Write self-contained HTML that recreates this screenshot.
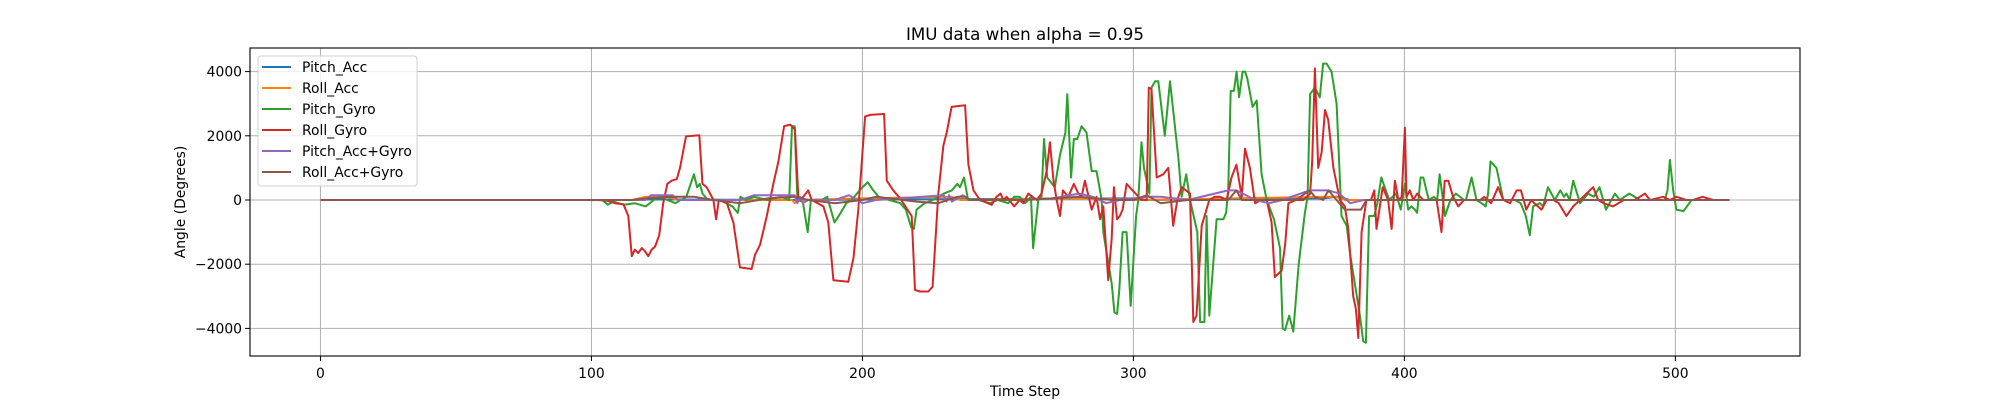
<!DOCTYPE html>
<html><head><meta charset="utf-8">
<style>
html,body{margin:0;padding:0;background:#fff;}
svg{display:block;font-family:"DejaVu Sans","Liberation Sans",sans-serif;}
</style></head>
<body>
<svg id="chart" width="2000" height="400" viewBox="0 0 2000 400" xmlns="http://www.w3.org/2000/svg">
<text x="1025" y="40" text-anchor="middle" font-size="16.7">IMU data when alpha = 0.95</text>
<g id="grid"></g>
<g id="series"></g>
<rect x="250" y="48" width="1550" height="308" fill="none" stroke="#000" stroke-width="1.1"/>
<g id="ticks"></g>
<text x="1025" y="396" text-anchor="middle" font-size="13.9">Time Step</text>
<text x="0" y="0" transform="translate(185,202) rotate(-90)" text-anchor="middle" font-size="13.9">Angle (Degrees)</text>
<g id="legend"></g>
</svg>
<script>
const xTicks=[0,100,200,300,400,500];
const yTicks=[-4000,-2000,0,2000,4000];
const yTickLabels=["\u22124000","\u22122000","0","2000","4000"];
const seriesNames=["Pitch_Acc","Roll_Acc","Pitch_Gyro","Roll_Gyro","Pitch_Acc+Gyro","Roll_Acc+Gyro"];
const seriesColors=["#1f77b4","#ff7f0e","#2ca02c","#d62728","#9467bd","#8c564b"];
const pitchAccX=[0,115,120,170,300,305,370,375,380,520];
const pitchAccY=[0,0,20,0,50,0,50,100,0,0];
const rollAccX=[0,115,120,128,132,174,175,176,200,233,236,280,300,370,375,378,520];
const rollAccY=[0,0,100,100,0,0,-100,0,50,100,0,50,0,100,100,0,0];
const pitchGyroX=[0,104,106,108,112,116,120,123,125,128,131,135,137.8,139,140,141,143,147,150,152,154,155,157,160,165,170,173,174,175,176,178,179.8,181,185,187,189.7,192,194,196,200,202,204,206,210,214,216,218,219,220,223,226,230,233,235,236,237.5,239,243,247,250,253.8,256,258,260,261.2,262.2,263,264.9,266.1,267,268.2,271,272.9,274.9,275.6,277,278,279.3,280.9,282.7,284.6,286.4,288.3,288.9,292,293,294,294.8,296,297.5,299,301,301.8,303,303.9,305.9,306.7,308,309.2,311.6,313.5,316.6,317.2,317.8,319.5,320.9,323.6,324.6,326.2,327,328,330.7,333.2,334.2,335,335.9,337.1,338.1,339,340.3,341.2,342,344,345.5,347.3,349.2,351.9,354.1,355.1,356,357.5,359,361,363.3,364.3,365.2,367,368.8,370,371.3,373.1,375,376.8,378.7,380,383.6,384.8,385.8,387,388.9,390,391.5,394.4,396.9,398.7,400.2,401.4,402.6,403.9,404.7,406,407,409,410.9,412.1,413,415,417,419,422,422.7,424.8,426.6,428.5,430,430.9,431.8,434,436.5,437.7,440.8,442.9,443.9,444.8,446.3,447.5,450,451.2,453,455.5,457.5,458.9,459.8,461,462.3,464.8,467.8,469.9,472,474.4,477.7,479.5,483,487,492,496.1,497.1,498,499.2,500.4,503,506,510,520];
const pitchGyroY=[0,0,-150,-50,-150,-100,-200,0,100,0,-100,100,800,400,500,200,0,0,-100,-200,-400,100,0,100,0,100,0,2300,2300,0,-50,-1000,0,0,100,-700,-400,-100,0,400,550,300,100,0,-100,-300,-850,-900,-300,-100,0,200,300,500,400,700,0,0,-100,0,-100,100,100,-100,0,100,-1500,0,100,1900,700,400,1400,2100,3300,700,1900,1900,2300,2100,900,900,0,-1000,-2600,-3500,-3550,-2800,-1000,-1000,-3300,-500,0,1800,1000,200,3500,3700,3700,2000,3700,1300,700,100,800,0,-1000,-3800,-3800,-500,-3600,-600,-600,-400,300,3400,3400,4000,3200,4000,4000,3800,2900,3100,800,0,-600,-1500,-4000,-4050,-3600,-4100,-2000,-400,100,3300,3500,3200,4250,4250,4000,3000,-500,-800,-1700,-3600,-4400,-4450,-500,-500,-100,700,0,200,-300,500,-300,-200,-300,-400,700,700,0,100,0,800,-500,0,200,0,0,700,0,-100,-200,200,1200,1000,0,0,0,-100,-300,-500,-1100,-200,-100,-200,400,0,300,100,200,0,600,-100,200,100,400,-300,200,0,200,0,0,0,300,1250,300,-300,-350,0,0,0,0];
const rollGyroX=[0,102,105.6,108.7,111.8,113.6,114.9,116,117.3,118.6,119.8,121,122.2,123.5,125,126.5,128,129.6,131.5,132.7,134.9,139.8,141,142.5,143.8,145,146,147,150,152.4,154.8,159.1,160.4,162.2,164.7,167.1,169,171.1,173.3,175.1,176.4,178.2,180,181.3,185.6,187.4,189.3,194.8,196.7,198.5,201,202.8,208,209,211.4,213.9,218.2,219.4,221.3,224.3,225.9,228,229.9,231.1,232.9,237.9,239.1,241,243.4,247.7,249.5,251,252,253.2,256,258,259.4,261.2,264.3,266.1,268,269.2,270.5,271.7,272.9,274,276,278,279.7,280.9,282.1,284.6,286.4,287.7,288.9,290.7,292,292.8,294,295,296,297.5,303,304.9,305.7,306.7,308.6,311,312.9,314.7,316.2,317.8,320.9,322.1,323.3,325.2,328,330,332,334.4,336.2,338,340,341.2,343,344.9,347,349.2,351,352.2,354.7,356,357.2,360,362.7,365.2,366,367,368.2,369.5,370.7,371.9,373.8,376.2,378,379.3,381.1,382.1,383,384.2,386,387.7,388.9,389.7,392,394,395.3,396.5,397.8,399,400.2,400.8,402,403.3,404.7,407,410,411.9,413.7,414.9,416.2,418,419.9,422,425,428,429.5,432,434.6,436.5,439,441.4,443,445,446.8,448,450.6,452.5,455,457,459.8,462.3,464.8,467.2,469.7,471.5,473.5,477,481,485,488.8,490.6,495.5,498,500.5,504,506.6,510,514,517,520];
const rollGyroY=[0,0,-20,-100,-130,-500,-1750,-1550,-1650,-1500,-1600,-1750,-1550,-1450,-1100,-100,500,600,650,1000,1980,2020,500,400,200,0,-600,0,-100,-700,-2100,-2150,-1700,-1400,-500,500,1200,2300,2350,2200,0,100,300,0,-200,-700,-2500,-2550,-1800,-300,2600,2650,2680,600,300,50,-500,-2800,-2850,-2850,-2700,200,1700,2100,2900,2950,1100,300,0,-150,100,200,0,100,-200,0,-100,200,0,200,900,1800,600,0,-500,300,100,500,200,100,600,-300,100,-600,-200,-2500,-1200,400,-600,-500,-300,500,0,0,3500,3450,700,800,1000,-800,0,400,200,-3800,-3600,-800,0,100,100,0,700,1100,100,1600,1000,-100,0,0,-700,-2400,-2200,-1400,-100,0,0,200,1200,4100,1000,1500,2800,2500,1000,0,-200,-900,-3000,-3400,-4300,-1000,0,0,300,-900,400,0,-900,600,0,100,2250,100,300,0,200,0,0,0,-1000,600,600,100,-200,0,0,0,100,-100,400,0,-100,300,300,-300,0,-100,-300,0,0,-100,-500,-200,0,200,400,0,-100,-200,0,0,200,0,100,0,100,0,0,100,0];
const pitchFusedX=[0,120,122,130,132,150,155,160,175,176,177,178,180,190,195,200,205,230,231,232,233,237,240,260,270,280,285,290,295,305,310,320,335,338,345,350,355,365,372,376,380,385,520];
const pitchFusedY=[0,0,150,150,0,0,0,150,150,-100,100,-100,0,0,150,-100,0,150,-50,150,-50,150,0,0,50,200,100,-100,0,100,100,0,300,300,0,-100,0,300,300,200,-100,0,0];
const rollFusedX=[0,115,120,130,138,145,155,165,175,180,190,200,205,210,220,228,235,238,240,260,280,292,300,305,310,320,335,338,340,360,365,367,370,372,375,378,384,386,520];
const rollFusedY=[0,0,50,100,100,0,-100,50,100,0,-100,0,100,50,-50,-100,100,100,0,0,100,0,0,150,-100,0,0,300,0,0,300,100,0,300,0,-300,-300,0,0];

const X0=250,X1=1800,Y0=48,Y1=356,XMIN=-26,XMAX=546,YMIN=-4860,YMAX=4735;
const sx=v=>X0+(v-XMIN)/(XMAX-XMIN)*(X1-X0);
const sy=v=>Y1-(v-YMIN)/(YMAX-YMIN)*(Y1-Y0);
const NS="http://www.w3.org/2000/svg";
const mk=(t,p)=>{const e=document.createElementNS(NS,t);p.appendChild(e);return e;};
const grid=document.getElementById('grid'),ticks=document.getElementById('ticks');
xTicks.forEach(v=>{
  const l=mk('line',grid);
  
  
  l.setAttribute('x1',sx(v));l.setAttribute('x2',sx(v));l.setAttribute('y1',Y0);l.setAttribute('y2',Y1);
  l.setAttribute('stroke','#b0b0b0');l.setAttribute('stroke-width','1');
  const t=mk('line',ticks);
  
  
  t.setAttribute('x1',sx(v));t.setAttribute('x2',sx(v));t.setAttribute('y1',Y1);t.setAttribute('y2',Y1+5);t.setAttribute('stroke','#000');
  const tx=mk('text',ticks);
  
  
  tx.setAttribute('x',sx(v));tx.setAttribute('y',378);tx.setAttribute('text-anchor','middle');tx.setAttribute('font-size','13.9');
  tx.textContent=String(v);
});
yTicks.forEach((v,i)=>{
  const l=mk('line',grid);
  
  
  l.setAttribute('x1',X0);l.setAttribute('x2',X1);l.setAttribute('y1',sy(v));l.setAttribute('y2',sy(v));
  l.setAttribute('stroke','#b0b0b0');l.setAttribute('stroke-width','1');
  const t=mk('line',ticks);
  
  
  t.setAttribute('x1',X0-5);t.setAttribute('x2',X0);t.setAttribute('y1',sy(v));t.setAttribute('y2',sy(v));t.setAttribute('stroke','#000');
  const tx=mk('text',ticks);
  
  
  tx.setAttribute('x',X0-8);tx.setAttribute('y',sy(v)+5);tx.setAttribute('text-anchor','end');tx.setAttribute('font-size','13.9');
  tx.textContent=yTickLabels[i];
});
const allX=[pitchAccX,rollAccX,pitchGyroX,rollGyroX,pitchFusedX,rollFusedX];
const allY=[pitchAccY,rollAccY,pitchGyroY,rollGyroY,pitchFusedY,rollFusedY];
const sg=document.getElementById('series');
const lineNames=['pitch-acc-line','roll-acc-line','pitch-gyro-line','roll-gyro-line','pitch-acc-gyro-line','roll-acc-gyro-line'];
allX.forEach((xs,k)=>{
  const p=mk('polyline',sg);
  
  
  p.setAttribute('points',xs.map((x,i)=>sx(x).toFixed(1)+','+sy(allY[k][i]).toFixed(1)).join(' '));
  p.setAttribute('fill','none');p.setAttribute('stroke',seriesColors[k]);p.setAttribute('stroke-width','2');p.setAttribute('stroke-linejoin','round');
});
const lg=document.getElementById('legend');
const box=mk('rect',lg);


box.setAttribute('x',258);box.setAttribute('y',56);box.setAttribute('width',159);box.setAttribute('height',130);box.setAttribute('rx',3);
box.setAttribute('fill','#fff');box.setAttribute('fill-opacity','0.8');box.setAttribute('stroke','#d0d0d0');
seriesNames.forEach((n,i)=>{
  const y=67+i*21;
  const l=mk('line',lg);
  
  
  l.setAttribute('x1',262);l.setAttribute('x2',291);l.setAttribute('y1',y);l.setAttribute('y2',y);l.setAttribute('stroke',seriesColors[i]);l.setAttribute('stroke-width','2');
  const t=mk('text',lg);
  
  
  t.setAttribute('x',302);t.setAttribute('y',y+5);t.setAttribute('font-size','13.9');
  t.textContent=n;
});
</script>
</body></html>
